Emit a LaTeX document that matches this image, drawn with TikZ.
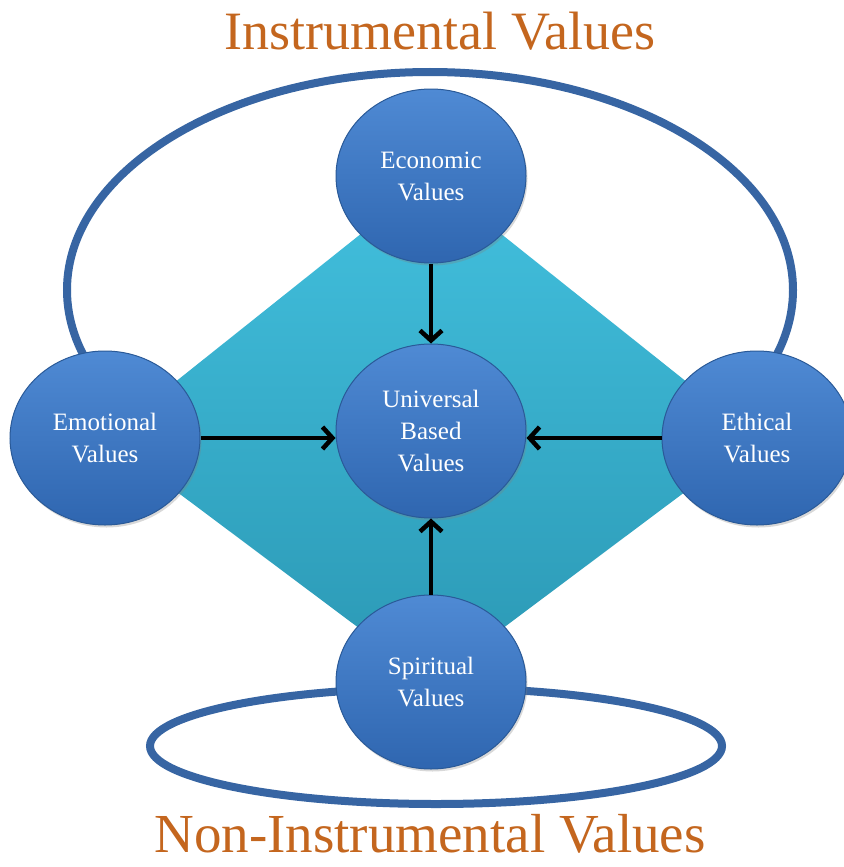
\documentclass[tikz,border=0pt]{standalone}
\usepackage{fontspec}
\setmainfont{Liberation Serif}
\usetikzlibrary{shapes.geometric,arrows.meta,shadows}
\definecolor{ringblue}{HTML}{3765A3}
\definecolor{ballA}{HTML}{4F8AD4}
\definecolor{ballB}{HTML}{2F66B0}
\definecolor{ballEdge}{HTML}{2A5A98}
\definecolor{diaA}{HTML}{42C0DE}
\definecolor{diaB}{HTML}{2B98B4}
\definecolor{titleC}{HTML}{C4661E}
\begin{document}
\begin{tikzpicture}[x=1pt,y=-1pt,
  ball/.style={ellipse, minimum width=190pt, minimum height=174pt, inner sep=0pt,
    top color=ballA, bottom color=ballB, draw=ballEdge, line width=1pt,
    text=white, align=center, font=\fontsize{25}{32}\selectfont,
    drop shadow={opacity=0.3, shadow xshift=1.5pt, shadow yshift=-2.5pt}},
  ring/.style={draw=ringblue, line width=8pt},
  flow/.style={-{Straight Barb[length=10pt,width=22pt]}, line width=4.5pt, black},
  title/.style={text=titleC, anchor=base, inner sep=0pt}]
\useasboundingbox (0,0) rectangle (843,867);
\fill[white] (0,0) rectangle (843,867);
% outer rings
\draw[ring] (430,290) ellipse [x radius=363, y radius=218];
\draw[ring] (436,746) ellipse [x radius=286, y radius=58];
% diamond
\shade[top color=diaA, bottom color=diaB] (431,178) -- (757,438) -- (431,682) -- (105,438) -- cycle;
% circles
\node[ball] (econ) at (431,176) {Economic\\Values};
\node[ball] (emo) at (105,438) {Emotional\\Values};
\node[ball] (eth) at (757,438) {Ethical\\Values};
\node[ball] (univ) at (431,431) {Universal\\Based\\Values};
\node[ball] (spir) at (431,682) {Spiritual\\Values};
% arrows
\draw[flow] (econ.south) -- (univ.north);
\draw[flow] (emo.east) -- (univ.west |- emo.east);
\draw[flow] (eth.west) -- (univ.east |- eth.west);
\draw[flow] (spir.north) -- (univ.south);
% titles
\node[title, font=\fontsize{54}{54}\selectfont] (t1) at (440,50) {Instrumental Values};
\node[title, font=\fontsize{55}{55}\selectfont] (t2) at (430,852) {Non-Instrumental Values};
\end{tikzpicture}
\end{document}
